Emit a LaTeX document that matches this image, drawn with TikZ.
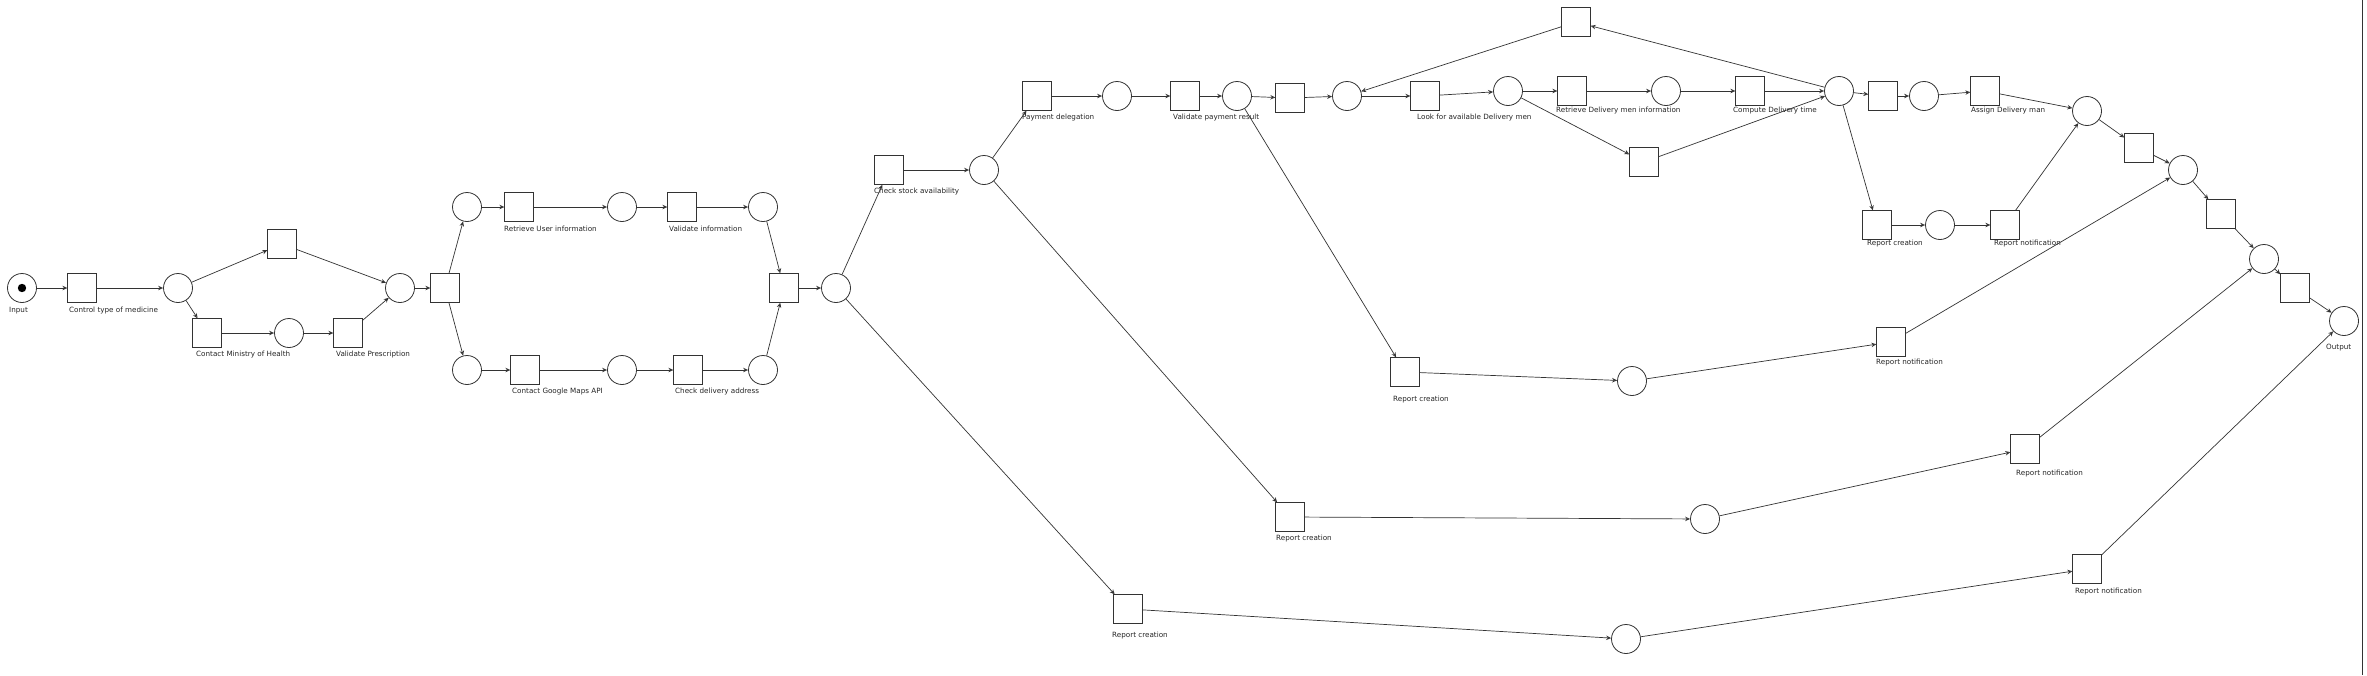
\documentclass[tikz,border=0pt]{standalone}
\usepackage{fontspec}
\setmainfont{DejaVu Sans}
\usetikzlibrary{arrows.meta}
\definecolor{ln}{HTML}{333333}
\begin{document}
\begin{tikzpicture}[x=1pt,y=-1pt,
  place/.style={circle,draw=ln,line width=0.8pt,minimum size=29pt,inner sep=0pt},
  trans/.style={rectangle,draw=ln,line width=0.8pt,minimum size=28.5pt,inner sep=0pt},
  lbl/.style={anchor=west,inner sep=0pt,font=\fontsize{7.2}{8}\selectfont,text=black!85},
  arc/.style={draw=ln,line width=0.7pt,-{Stealth[open,length=5pt,width=4.5pt]}}]
\useasboundingbox (0,0) rectangle (2367,675);
\fill[white] (0,0) rectangle (2367,675);
\draw[ln,line width=0.8pt] (2362,0) -- (2362,675);
% places
\node[place] (p0) at (22,288) {};
\fill[black] (p0.center) circle (4.2pt);
\node[place] (p1) at (178,288) {};
\node[place] (p2) at (289,333) {};
\node[place] (p3) at (400,288) {};
\node[place] (p4) at (467,207) {};
\node[place] (p5) at (622,207) {};
\node[place] (p6) at (763,207) {};
\node[place] (p7) at (467,370) {};
\node[place] (p8) at (622,370) {};
\node[place] (p9) at (763,370) {};
\node[place] (p10) at (836,288) {};
\node[place] (p11) at (984,170) {};
\node[place] (p12) at (1117,96) {};
\node[place] (p13) at (1237,96) {};
\node[place] (p14) at (1347,96) {};
\node[place] (p15) at (1508,91) {};
\node[place] (p16) at (1666,91) {};
\node[place] (p17) at (1839,91) {};
\node[place] (p18) at (1924,96) {};
\node[place] (p19) at (1940,225) {};
\node[place] (p20) at (2087,111) {};
\node[place] (p21) at (2183,170) {};
\node[place] (p22) at (2264,259) {};
\node[place] (p23) at (2344,321) {};
\node[place] (p24) at (1632,381) {};
\node[place] (p25) at (1705,519) {};
\node[place] (p26) at (1626,639) {};
% transitions
\node[trans] (t1) at (82,288) {};
\node[trans] (t2) at (282,244) {};
\node[trans] (t3) at (207,333) {};
\node[trans] (t4) at (348,333) {};
\node[trans] (t5) at (445,288) {};
\node[trans] (t6) at (519,207) {};
\node[trans] (t7) at (682,207) {};
\node[trans] (t8) at (525,370) {};
\node[trans] (t9) at (688,370) {};
\node[trans] (t10) at (784,288) {};
\node[trans] (t11) at (889,170) {};
\node[trans] (t12) at (1037,96) {};
\node[trans] (t13) at (1185,96) {};
\node[trans] (t14) at (1290,98) {};
\node[trans] (t15) at (1425,96) {};
\node[trans] (t16) at (1572,91) {};
\node[trans] (t17) at (1750,91) {};
\node[trans] (t18) at (1576,22) {};
\node[trans] (t19) at (1644,162) {};
\node[trans] (t20) at (1883,96) {};
\node[trans] (t21) at (1985,91) {};
\node[trans] (t22) at (1877,225) {};
\node[trans] (t23) at (2005,225) {};
\node[trans] (t24) at (2139,148) {};
\node[trans] (t25) at (2221,214) {};
\node[trans] (t26) at (2295,288) {};
\node[trans] (t27) at (1405,372) {};
\node[trans] (t28) at (1891,342) {};
\node[trans] (t29) at (1290,517) {};
\node[trans] (t30) at (2025,449) {};
\node[trans] (t31) at (1128,609) {};
\node[trans] (t32) at (2087,569) {};
% labels
\node[lbl] (l0) at (9,311) {Input};
\node[lbl] (l1) at (69,311) {Control type of medicine};
\node[lbl] (l3) at (196,355) {Contact Ministry of Health};
\node[lbl] (l4) at (336,355) {Validate Prescription};
\node[lbl] (l6) at (504,229) {Retrieve User information};
\node[lbl] (l7) at (669,229) {Validate information};
\node[lbl] (l8) at (512,392) {Contact Google Maps API};
\node[lbl] (l9) at (675,392) {Check delivery address};
\node[lbl] (l11) at (874,192) {Check stock availability};
\node[lbl] (l12) at (1022,118) {Payment delegation};
\node[lbl] (l13) at (1173,118) {Validate payment result};
\node[lbl] (l15) at (1417,118) {Look for available Delivery men};
\node[lbl] (l16) at (1556,111) {Retrieve Delivery men information};
\node[lbl] (l17) at (1733,111) {Compute Delivery time};
\node[lbl] (l21) at (1971,111) {Assign Delivery man};
\node[lbl] (l22) at (1867,244) {Report creation};
\node[lbl] (l23) at (1994,244) {Report notification};
\node[lbl] (l27) at (1393,400) {Report creation};
\node[lbl] (l28) at (1876,363) {Report notification};
\node[lbl] (l29) at (1276,539) {Report creation};
\node[lbl] (l30) at (2016,474) {Report notification};
\node[lbl] (l31) at (1112,636) {Report creation};
\node[lbl] (l32) at (2075,592) {Report notification};
\node[lbl] (l23b) at (2326,348) {Output};
% arcs
\draw[arc] (p0) -- (t1);
\draw[arc] (t1) -- (p1);
\draw[arc] (p1) -- (t2);
\draw[arc] (p1) -- (t3);
\draw[arc] (t2) -- (p3);
\draw[arc] (t3) -- (p2);
\draw[arc] (p2) -- (t4);
\draw[arc] (t4) -- (p3);
\draw[arc] (p3) -- (t5);
\draw[arc] (t5) -- (p4);
\draw[arc] (t5) -- (p7);
\draw[arc] (p4) -- (t6);
\draw[arc] (t6) -- (p5);
\draw[arc] (p5) -- (t7);
\draw[arc] (t7) -- (p6);
\draw[arc] (p6) -- (t10);
\draw[arc] (p7) -- (t8);
\draw[arc] (t8) -- (p8);
\draw[arc] (p8) -- (t9);
\draw[arc] (t9) -- (p9);
\draw[arc] (p9) -- (t10);
\draw[arc] (t10) -- (p10);
\draw[arc] (p10) -- (t11);
\draw[arc] (p10) -- (t31);
\draw[arc] (t11) -- (p11);
\draw[arc] (p11) -- (t12);
\draw[arc] (p11) -- (t29);
\draw[arc] (t12) -- (p12);
\draw[arc] (p12) -- (t13);
\draw[arc] (t13) -- (p13);
\draw[arc] (p13) -- (t14);
\draw[arc] (p13) -- (t27);
\draw[arc] (t14) -- (p14);
\draw[arc] (p14) -- (t15);
\draw[arc] (t15) -- (p15);
\draw[arc] (p15) -- (t16);
\draw[arc] (p15) -- (t19);
\draw[arc] (t16) -- (p16);
\draw[arc] (p16) -- (t17);
\draw[arc] (t17) -- (p17);
\draw[arc] (t19) -- (p17);
\draw[arc] (p17) -- (t18);
\draw[arc] (t18) -- (p14);
\draw[arc] (p17) -- (t20);
\draw[arc] (p17) -- (t22);
\draw[arc] (t20) -- (p18);
\draw[arc] (p18) -- (t21);
\draw[arc] (t21) -- (p20);
\draw[arc] (t22) -- (p19);
\draw[arc] (p19) -- (t23);
\draw[arc] (t23) -- (p20);
\draw[arc] (p20) -- (t24);
\draw[arc] (t24) -- (p21);
\draw[arc] (t27) -- (p24);
\draw[arc] (p24) -- (t28);
\draw[arc] (t28) -- (p21);
\draw[arc] (p21) -- (t25);
\draw[arc] (t25) -- (p22);
\draw[arc] (t29) -- (p25);
\draw[arc] (p25) -- (t30);
\draw[arc] (t30) -- (p22);
\draw[arc] (p22) -- (t26);
\draw[arc] (t26) -- (p23);
\draw[arc] (t31) -- (p26);
\draw[arc] (p26) -- (t32);
\draw[arc] (t32) -- (p23);
\end{tikzpicture}
\end{document}
